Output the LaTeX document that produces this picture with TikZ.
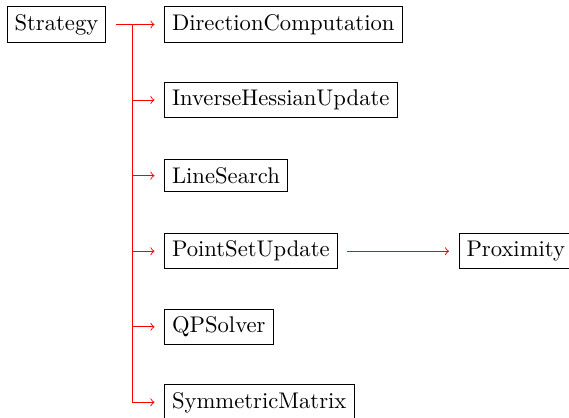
\documentclass[tikz,border=0pt]{standalone}
\usepackage{tikz}

\begin{document}
\begin{tikzpicture}[
  box/.style={draw, anchor=west, outer sep=4.4pt},
  link/.style={->, red},
]

\useasboundingbox (0,0) rectangle (8.831,6.487);

% Root
\node[box] (strategy) at (-0.046,6.107) {Strategy};

% Children
\node[box] (dircomp)  at (2.398,6.107) {DirectionComputation};
\node[box] (invhess)  at (2.398,4.934) {InverseHessianUpdate};
\node[box] (linesrch) at (2.398,3.761) {LineSearch};
\node[box] (ptset)    at (2.398,2.588) {PointSetUpdate};
\node[box] (qpsolve)  at (2.398,1.415) {QPSolver};
\node[box] (symmat)   at (2.398,0.242) {SymmetricMatrix};

% Grandchild
\node[box] (proxim)   at (6.969,2.588) {Proximity};

% Trunk
\coordinate (trunk) at (2.049,6.107);
\draw[red] (strategy) -- (trunk) -- (trunk |- symmat);

% Branches
\draw[link] (trunk) -- (dircomp);
\draw[link] (trunk |- invhess) -- (invhess);
\draw[link] (trunk |- linesrch) -- (linesrch);
\draw[link] (trunk |- ptset) -- (ptset);
\draw[link] (trunk |- qpsolve) -- (qpsolve);
\draw[link] (trunk |- symmat) -- (symmat);
\draw[link] (ptset) -- (proxim);

\end{tikzpicture}
\end{document}
